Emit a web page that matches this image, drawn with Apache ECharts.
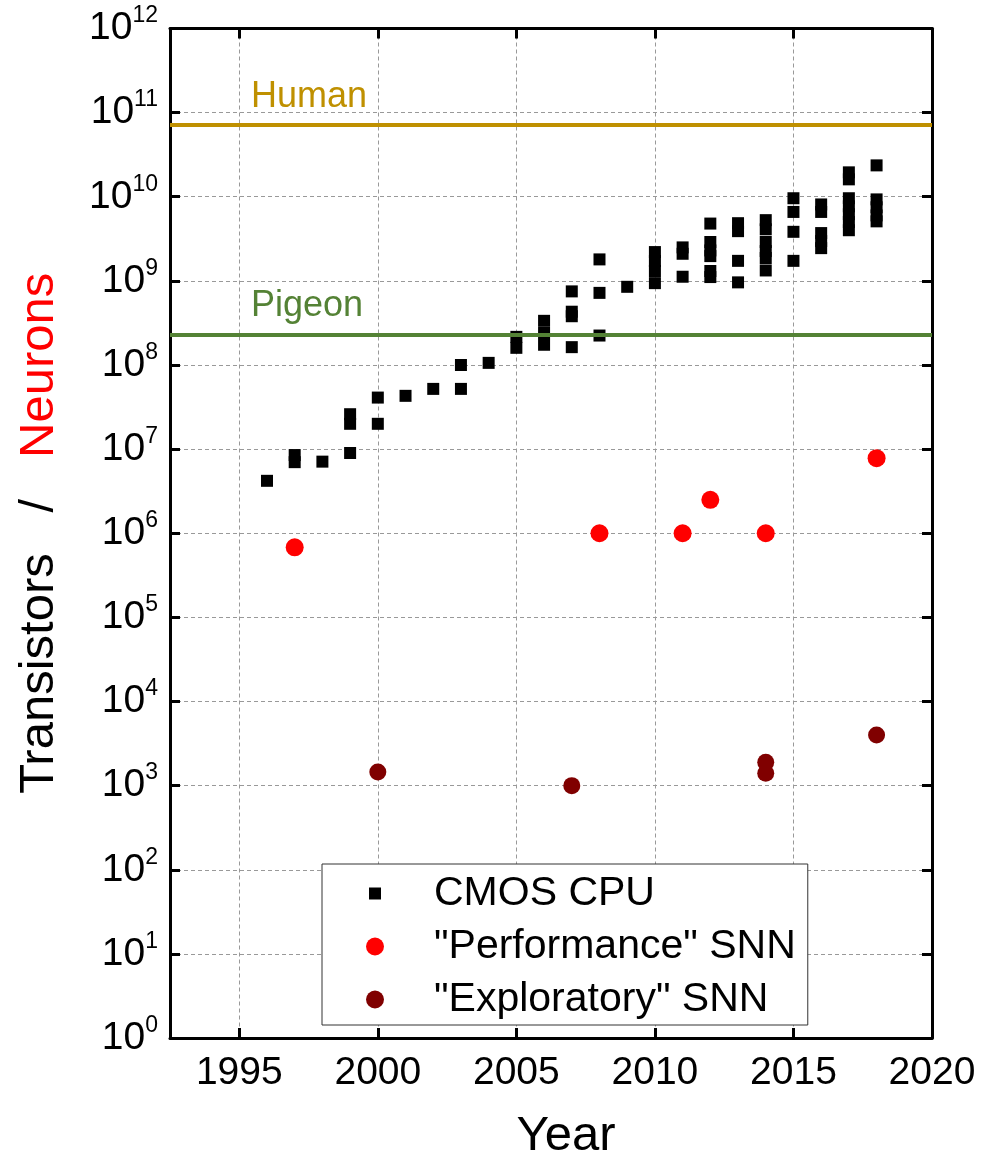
<!DOCTYPE html>
<html>
<head>
<meta charset="utf-8" />
<title>Transistors / Neurons</title>
<script src="https://cdn.jsdelivr.net/npm/echarts@6/dist/echarts.min.js"></script>
<style>
  body { margin: 0; background: #fff; }
  #chart { width: 992px; height: 1166px; }
</style>
</head>
<body>
<div id="chart"></div>
<script>
const FONT = '"Liberation Sans", Arial, sans-serif';

// CMOS CPU transistor counts
const cpuYears = [
  1996, 1997, 1997, 1998, 1999, 1999, 1999, 2000, 2000, 2001, 2002, 2003, 2003, 2004,
  2005, 2005, 2006, 2006, 2006, 2007, 2007, 2007, 2007, 2008, 2008, 2008, 2009,
  2010, 2010, 2010, 2010, 2011, 2011, 2011,
  2012, 2012, 2012, 2012, 2012, 2012, 2013, 2013, 2013, 2013,
  2014, 2014, 2014, 2014, 2014, 2014, 2015, 2015, 2015, 2015,
  2016, 2016, 2016, 2016, 2016,
  2017, 2017, 2017, 2017, 2017, 2017, 2017,
  2018, 2018, 2018, 2018, 2018
];
const cpuTransistors = [
  4.2e6, 8.5e6, 7.0e6, 7.1e6, 9.0e6, 2.0e7, 2.6e7, 2.0e7, 4.1e7, 4.3e7, 5.2e7, 5.2e7, 1.0e8, 1.06e8,
  2.16e8, 1.6e8, 3.35e8, 2.4e8, 1.74e8, 7.5e8, 4.3e8, 3.8e8, 1.63e8, 1.8e9, 7.2e8, 2.24e8, 8.5e8,
  2.2e9, 1.72e9, 1.31e9, 9.4e8, 2.5e9, 2.1e9, 1.12e9,
  4.8e9, 2.9e9, 2.3e9, 1.97e9, 1.31e9, 1.11e9, 4.85e9, 3.9e9, 1.73e9, 9.6e8,
  5.27e9, 4.1e9, 2.9e9, 2.26e9, 1.87e9, 1.33e9, 9.6e9, 6.6e9, 3.83e9, 1.73e9,
  8.1e9, 6.6e9, 3.7e9, 2.97e9, 2.45e9,
  1.95e10, 1.61e10, 9.6e9, 7.7e9, 6.2e9, 5.0e9, 4.0e9,
  2.36e10, 9.3e9, 7.5e9, 6.0e9, 5.1e9
];

// "Performance" SNN neurons
const perfYears = [1997, 2008, 2011, 2012, 2014, 2018];
const perfNeurons = [6.8e5, 1.0e6, 1.0e6, 2.5e6, 1.0e6, 7.8e6];

// "Exploratory" SNN neurons
const explYears = [2000, 2007, 2014, 2014, 2018];
const explNeurons = [1.45e3, 1.0e3, 1.9e3, 1.4e3, 4.0e3];

// reference levels
const HUMAN_NEURONS = 7.2e10;
const PIGEON_NEURONS = 2.3e8;

const xTicks = [1995, 2000, 2005, 2010, 2015, 2020];
const X_MIN = 1992.5, X_MAX = 2020;

const zip = (xs, ys) => xs.map((x, i) => [x, ys[i]]);

const gridLine = { show: true, lineStyle: { color: '#999', width: 1, type: [4, 3] } };
const frameLine = { show: true, onZero: false, lineStyle: { color: '#000', width: 3 } };
const tick = { show: true, inside: true, length: 10, lineStyle: { color: '#000', width: 3 } };

const chart = echarts.init(document.getElementById('chart'));
chart.setOption({
  animation: false,
  textStyle: { fontFamily: FONT },
  grid: { left: 170, right: 60, top: 28.5, bottom: 123 },
  xAxis: [
    {
      type: 'value', min: X_MIN, max: X_MAX, position: 'bottom',
      name: 'Year', nameLocation: 'middle', nameGap: 74,
      nameTextStyle: { fontSize: 49, color: '#000', fontFamily: FONT, padding: [0, 0, 0, 30] },
      axisLine: frameLine,
      axisTick: Object.assign({ customValues: xTicks }, tick),
      axisLabel: {
        customValues: xTicks, fontSize: 39, color: '#000', margin: 16, fontFamily: FONT,
        formatter: v => String(v)
      },
      splitLine: gridLine
    },
    {
      type: 'value', min: X_MIN, max: X_MAX, position: 'top',
      axisLine: frameLine,
      axisTick: Object.assign({ customValues: xTicks.slice(0, -1) }, tick),
      axisLabel: { show: false },
      splitLine: { show: false }
    }
  ],
  yAxis: [
    {
      type: 'log', logBase: 10, min: 1, max: 1e12, interval: 1, position: 'left',
      name: '{k|Transistors   /   }{r|Neurons}', nameLocation: 'middle', nameGap: 106, nameRotate: 90,
      nameTextStyle: {
        fontSize: 49, fontFamily: FONT,
        rich: {
          k: { fontSize: 49, color: '#000', fontFamily: FONT },
          r: { fontSize: 49, color: '#ff0000', fontFamily: FONT }
        }
      },
      axisLine: frameLine,
      axisTick: tick,
      axisLabel: {
        margin: 12,
        formatter: v => '{b|10}{s|' + Math.round(Math.log10(v)) + '}',
        rich: {
          b: { fontSize: 39, lineHeight: 48, color: '#000', fontFamily: FONT },
          s: { fontSize: 23, lineHeight: 22, verticalAlign: 'top', color: '#000', fontFamily: FONT }
        }
      },
      splitLine: gridLine
    },
    {
      type: 'log', logBase: 10, min: 1, max: 1e12, interval: 1, position: 'right',
      axisLine: frameLine,
      axisTick: tick,
      axisLabel: { show: false },
      splitLine: { show: false }
    }
  ],
  legend: {
    orient: 'vertical', left: 322, top: 864,
    data: [
      { name: 'CMOS CPU', icon: 'path://M0,0M18,18M3,3L15,3L15,15L3,15Z' },
      { name: '"Performance" SNN', icon: 'circle' },
      { name: '"Exploratory" SNN', icon: 'circle' }
    ],
    itemWidth: 108, itemHeight: 18, itemGap: 12,
    padding: [9, 12, 5, 44],
    borderColor: '#333', borderWidth: 1, backgroundColor: '#fff',
    selectedMode: false,
    itemStyle: { opacity: 1 },
    textStyle: { fontSize: 41, lineHeight: 40, color: '#000', fontFamily: FONT }
  },
  series: [
    {
      name: 'CMOS CPU', type: 'scatter', symbol: 'rect', symbolSize: 12,
      itemStyle: { color: '#000', opacity: 1 },
      data: zip(cpuYears, cpuTransistors),
      markLine: {
        silent: true, symbol: 'none',
        lineStyle: { type: 'solid', width: 4 },
        label: { position: 'insideStartTop', formatter: '{b}', fontSize: 36, fontFamily: FONT, distance: [81, 10] },
        data: [
          { name: 'Human', yAxis: HUMAN_NEURONS, lineStyle: { color: '#BF9000' }, label: { color: '#BF9000' } },
          { name: 'Pigeon', yAxis: PIGEON_NEURONS, lineStyle: { color: '#548235' }, label: { color: '#548235' } }
        ]
      }
    },
    {
      name: '"Performance" SNN', type: 'scatter', symbol: 'circle', symbolSize: 18,
      itemStyle: { color: '#ff0000', opacity: 1 },
      data: zip(perfYears, perfNeurons)
    },
    {
      name: '"Exploratory" SNN', type: 'scatter', symbol: 'circle', symbolSize: 17,
      itemStyle: { color: '#800000', opacity: 1 },
      data: zip(explYears, explNeurons)
    }
  ]
});
</script>
</body>
</html>
